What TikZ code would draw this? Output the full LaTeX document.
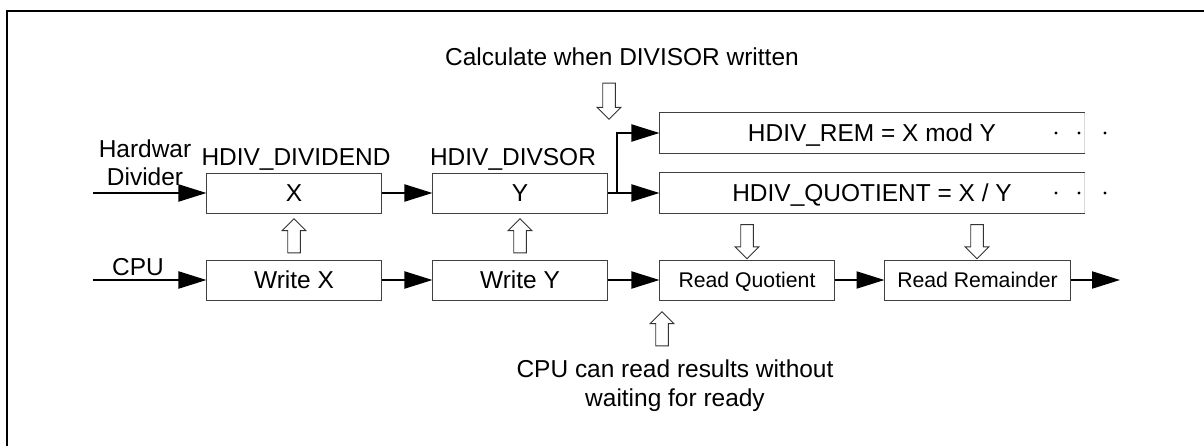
\documentclass[tikz,border=0pt]{standalone}
\usepackage{fontspec}
\setmainfont{Liberation Sans}
\usetikzlibrary{arrows.meta,shapes.arrows}

\tikzset{
  hdbox/.style={rectangle, draw=black!75, line width=.7pt, minimum width=123.8pt, minimum height=28.45pt, inner sep=0pt, text depth=0pt, font=\fontsize{17.4}{20.6}\selectfont},
  hdsmall/.style={hdbox, font=\fontsize{15.1}{18}\selectfont},
  hdwide/.style={hdbox, draw=none, minimum width=301.6pt},
  hdedge/.style={draw=black!75, line width=.7pt},
  hdlabel/.style={inner sep=0pt, font=\fontsize{17.4}{20.6}\selectfont},
  hdflow/.style={line width=1.4pt, -{Triangle[length=19.9pt, width=12.1pt]}},
  hdhollow/.style={single arrow, draw=black!80, line width=.6pt, fill=white, inner sep=4.2pt, minimum width=16.4pt, minimum height=24.2pt, single arrow head extend=3.9pt}
}

\begin{document}
\begin{tikzpicture}[x=0.025cm, y=-0.025cm]
\useasboundingbox (0,0) rectangle (1204,446);
\draw[line width=1.5pt] (7,446) -- (7,11) -- (1204,11);

% registers
\node[hdbox] (regx) at (294,193) {X};
\node[hdbox] (regy) at (520,193) {Y};
\node[hdwide] (rem) at (872,133) {HDIV\_REM = X mod Y};
\node[hdwide] (quot) at (872,193) {HDIV\_QUOTIENT = X / Y};

\draw[hdedge] (rem.north east) -- (rem.north west) -- (rem.south west) -- (rem.south east);
\draw[hdedge] (quot.north east) -- (quot.north west) -- (quot.south west) -- (quot.south east);
\draw[black!15, line width=.5pt] (rem.north east) -- (rem.south east);
\draw[black!15, line width=.5pt] (quot.north east) -- (quot.south east);

\fill (1056,133) circle (1.6);
\fill (1079,133) circle (1.6);
\fill (1105,133) circle (1.6);
\fill (1056,193) circle (1.6);
\fill (1079,193) circle (1.6);
\fill (1105,193) circle (1.6);

% cpu steps
\node[hdbox] (wrx) at (294,280) {Write X};
\node[hdbox] (wry) at (520,280) {Write Y};
\node[hdsmall] (rdq) at (747,280) {Read Quotient};
\node[hdsmall, minimum width=131.6pt] (rdr) at (977.5,280) {Read Remainder};

% labels
\node[hdlabel, align=center, anchor=north] (hwlbl) at (145,139) {Hardwar\\Divider};
\node[hdlabel, anchor=base] (cpulbl) at (138,275.5) {CPU};
\node[hdlabel, anchor=base] (dvdlbl) at (296,165.7) {HDIV\_DIVIDEND};
\node[hdlabel, anchor=base] (dvslbl) at (513,165.7) {HDIV\_DIVSOR};
\node[hdlabel, anchor=base] (calclbl) at (622,65.7) {Calculate when DIVISOR written};
\node[hdlabel, align=center, anchor=north, font=\fontsize{17.4}{21.3}\selectfont] (readlbl) at (675,359) {CPU can read results without\\waiting for ready};

% hollow arrows
\node[hdhollow, shape border rotate=90] (upx) at (294,239) {};
\node[hdhollow, shape border rotate=90] (upy) at (520,239) {};
\node[hdhollow, shape border rotate=270, minimum height=25.6pt] (calcarr) at (609,98) {};
\node[hdhollow, shape border rotate=270] (dnq) at (747,238.5) {};
\node[hdhollow, shape border rotate=270] (dnr) at (977,238.5) {};
\node[hdhollow, shape border rotate=90] (upread) at (662,332) {};

% connectors
\coordinate (hwin) at (93,193);
\coordinate (cpuin) at (93,280);
\coordinate (cpuout) at (1120,280);
\coordinate (split) at (617,193);

\draw[hdflow] (hwin) -- (regx);
\draw[hdflow] (regx) -- (regy);
\draw[hdflow] (regy) -- (quot);
\draw[hdflow] (split) |- (rem);

\draw[hdflow] (cpuin) -- (wrx);
\draw[hdflow] (wrx) -- (wry);
\draw[hdflow] (wry) -- (rdq);
\draw[hdflow] (rdq) -- (rdr);
\draw[hdflow] (rdr) -- (cpuout);
\end{tikzpicture}
\end{document}
